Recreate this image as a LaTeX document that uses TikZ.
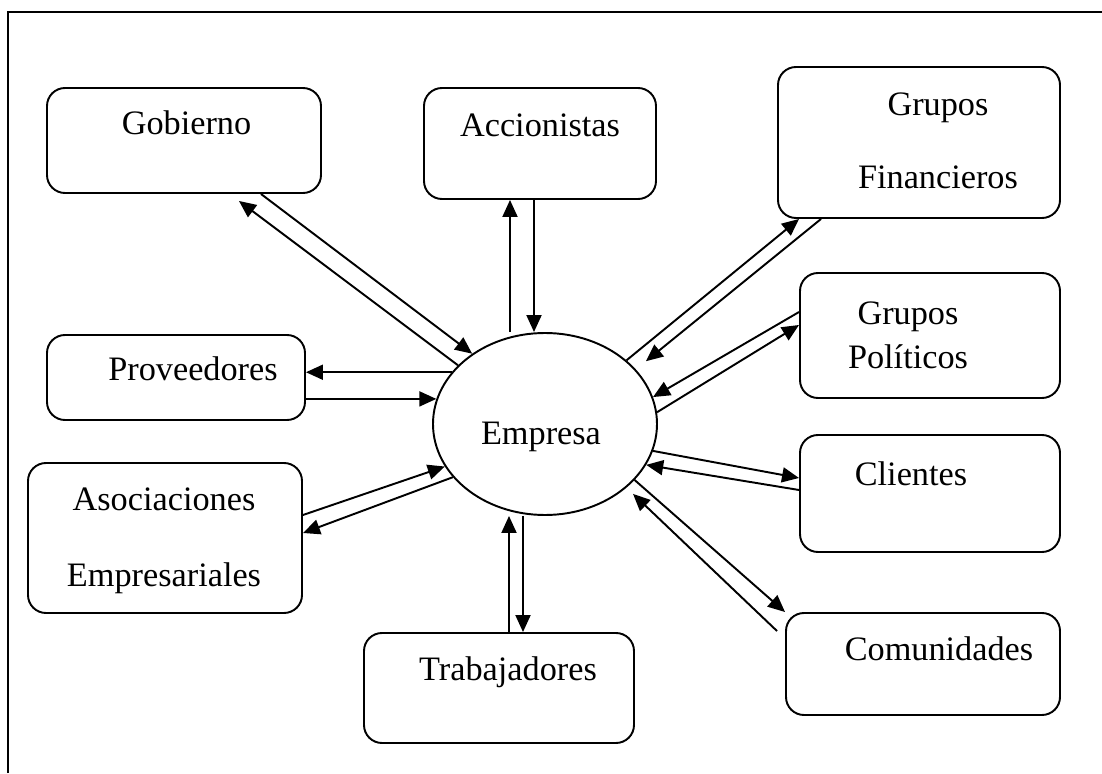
\documentclass[tikz,border=0pt]{standalone}
\usepackage{fontspec}
\setmainfont{Liberation Serif}
\usetikzlibrary{arrows.meta,shapes.geometric}

\tikzset{
	caja/.style={draw, rounded corners=0.36cm},
	txt/.style={inner sep=0pt, font=\fontsize{19.5}{23}\selectfont, align=center},
}

\begin{document}
\begin{tikzpicture}[line width=1.1pt, >={Triangle[length=3.4mm,width=3mm]}]
	\useasboundingbox (0,0) rectangle (22.04,15.46);
	% marco
	\draw (0.16,0) |- (22.04,15.22);

	% cajas
	\node[caja, minimum width=5.48cm, minimum height=2.10cm] (gob) at (3.68,12.65) {};
	\node[caja, minimum width=4.64cm, minimum height=2.22cm] (acc) at (10.80,12.59) {};
	\node[caja, minimum width=5.64cm, minimum height=3.02cm] (gfin) at (18.38,12.61) {};
	\node[caja, minimum width=5.20cm, minimum height=2.50cm] (gpol) at (18.60,8.75) {};
	\node[caja, minimum width=5.20cm, minimum height=2.34cm] (cli) at (18.60,5.59) {};
	\node[caja, minimum width=5.48cm, minimum height=2.04cm] (com) at (18.46,2.18) {};
	\node[caja, minimum width=5.16cm, minimum height=1.70cm] (prov) at (3.52,7.91) {};
	\node[caja, minimum width=5.48cm, minimum height=3.00cm] (asoc) at (3.30,4.70) {};
	\node[caja, minimum width=5.40cm, minimum height=2.20cm] (trab) at (9.98,1.70) {};
	\node[draw, ellipse, inner sep=0pt, minimum width=4.48cm, minimum height=3.64cm] (emp) at (10.90,6.98) {};

	% textos
	\node[txt, anchor=base] (gobt) at (3.73,12.76) {Gobierno};
	\node[txt, anchor=base] (acct) at (10.80,12.72) {Accionistas};
	\node[txt, anchor=north] (gfint) at (18.76,13.62) {Grupos\\[0.65cm]Financieros};
	\node[txt, anchor=north] (gpolt) at (18.16,9.44) {Grupos\\[0.07cm]Políticos};
	\node[txt, anchor=base] (clit) at (18.22,5.74) {Clientes};
	\node[txt, anchor=base] (comt) at (18.78,2.26) {Comunidades};
	\node[txt, anchor=base] (trabt) at (10.16,1.86) {Trabajadores};
	\node[txt, anchor=base] (provt) at (3.86,7.84) {Proveedores};
	\node[txt, anchor=north] (asoct) at (3.28,5.72) {Asociaciones\\[0.71cm]Empresariales};
	\node[txt, anchor=base] (empt) at (10.82,6.56) {Empresa};

	\path[->]
	([xshift=-1.22cm]gob.south east) edge (emp.136)
	(emp.146) edge ([xshift=-1.66cm,yshift=-0.14cm]gob.south east)
	([xshift=-0.6cm]acc.south |- emp.north) edge ([xshift=-0.6cm]acc.south)
	([xshift=-0.12cm]acc.south) edge ([xshift=-0.12cm]acc.south |- emp.north)
	(emp.38) edge ([xshift=0.44cm]gfin.south west)
	([xshift=0.88cm]gfin.south west) edge [shorten >=0.26cm] (emp.31)
	([yshift=0.47cm]gpol.west) edge (emp.14)
	(emp.6) edge ([yshift=0.21cm]gpol.west)
	(emp.346) edge ([yshift=0.31cm]cli.west)
	([yshift=0.07cm]cli.west) edge (emp.338)
	(emp.328) edge (com.north west)
	([xshift=-0.16cm,yshift=-0.38cm]com.north west) edge [shorten >=0.18cm] (emp.322)
	([xshift=0.2cm]trab.north) edge ([xshift=0.2cm]trab.north |- emp.south)
	([xshift=0.48cm]trab.north |- emp.south) edge ([xshift=0.48cm]trab.north)
	(emp.151) edge (emp.151 -| prov.east)
	(emp.167 -| prov.east) edge (emp.167)
	([yshift=0.46cm]asoc.east) edge (emp.203)
	(emp.210) edge ([yshift=0.1cm]asoc.east);
\end{tikzpicture}
\end{document}
